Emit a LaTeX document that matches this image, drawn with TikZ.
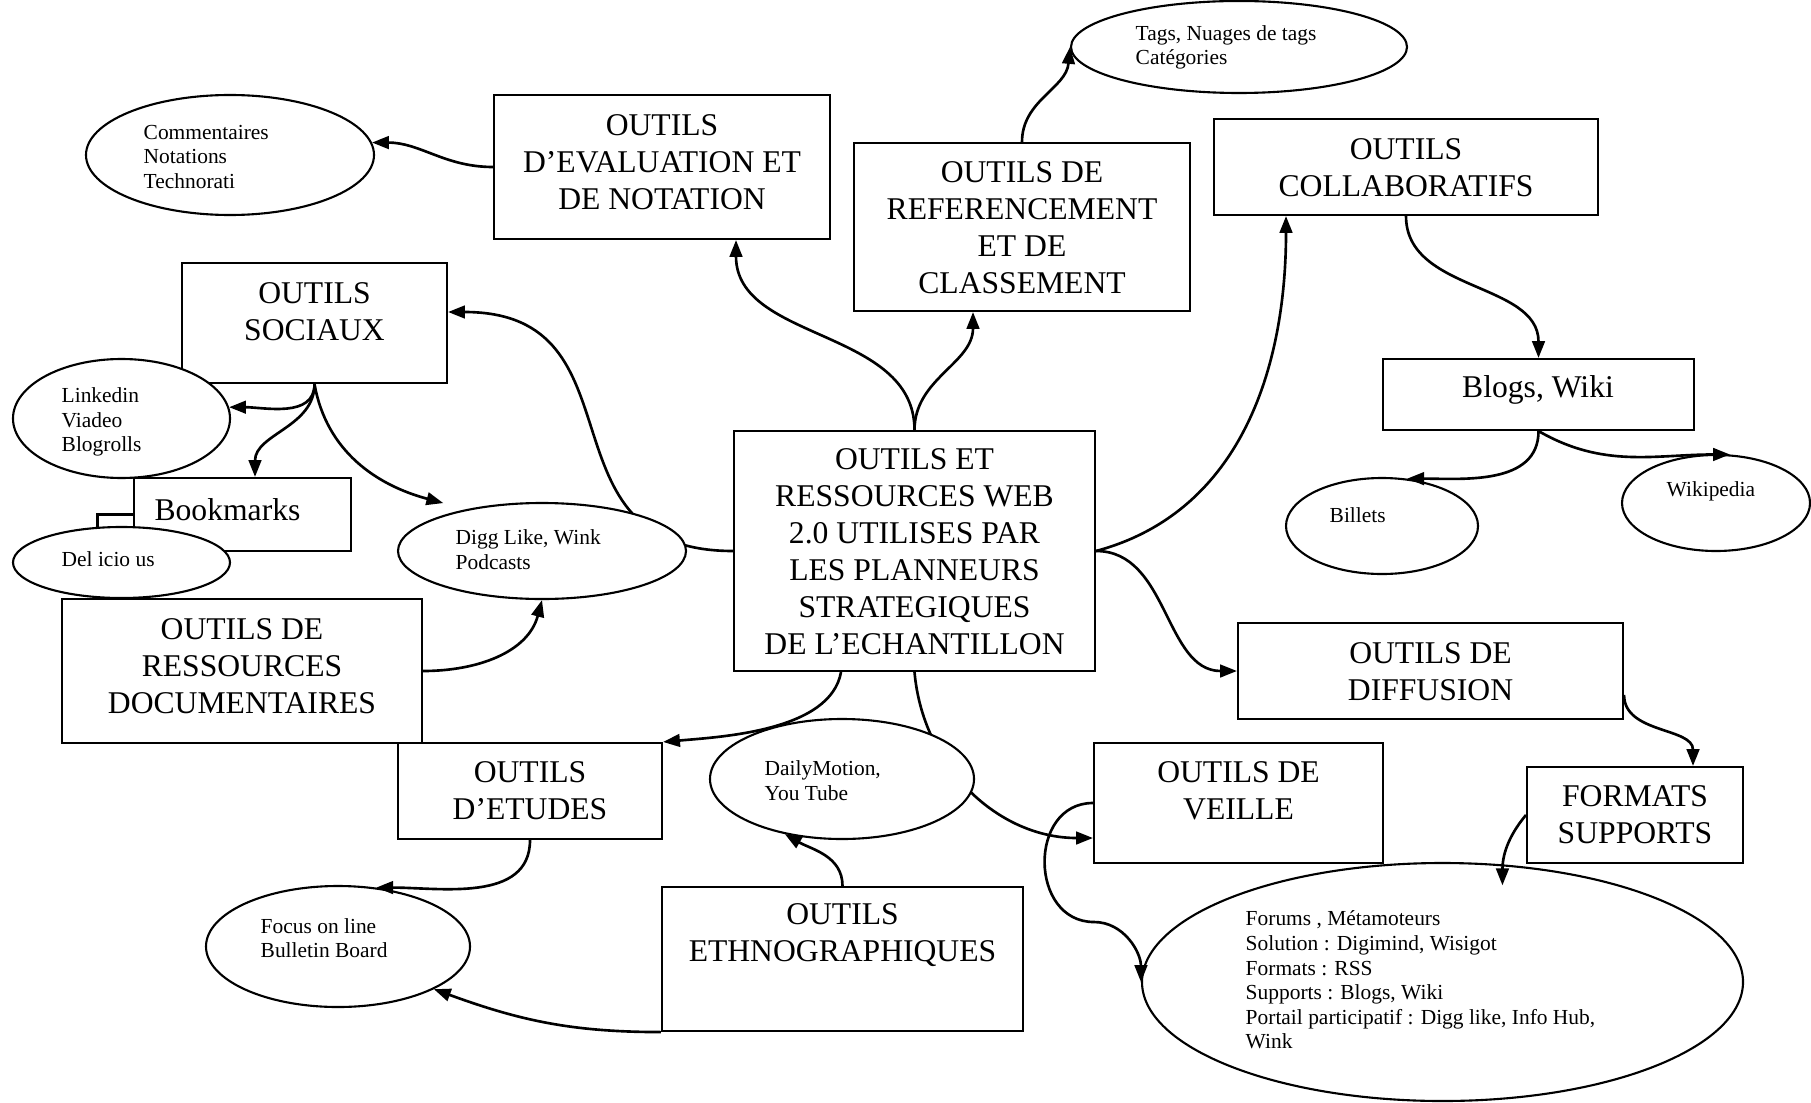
\documentclass[tikz,border=0pt]{standalone}
\usepackage{fontspec}
\setmainfont{Liberation Serif}
\usetikzlibrary{shapes.geometric,arrows.meta,backgrounds}

\begin{document}
\begin{tikzpicture}[
    box/.style={draw, line width=0.6pt, fill=white, inner sep=0pt},
    bulle/.style={draw, ellipse, line width=0.6pt, fill=white, inner sep=0pt},
    titre/.style={align=center, inner sep=0pt, font=\fontsize{9}{10.5}\selectfont},
    liste/.style={align=left, anchor=west, inner sep=0pt, font=\fontsize{6.1}{7}\selectfont},
    lien/.style={line width=0.75pt, -{Triangle[length=4.8pt,width=3.6pt]}}
  ]

  \useasboundingbox (0,0) rectangle (18.11,11.02);

  \node[box, minimum width=3.36cm, minimum height=1.44cm] (eval) at (6.62,9.35) {};
  \node[box, minimum width=3.36cm, minimum height=1.68cm] (ref) at (10.22,8.75) {};
  \node[box, minimum width=3.84cm, minimum height=0.96cm] (collab) at (14.06,9.35) {};
  \node[box, minimum width=2.65cm, minimum height=1.20cm] (soc) at (3.145,7.79) {};
  \node[box, minimum width=2.17cm, minimum height=0.73cm] (book) at (2.425,5.875) {};
  \node[box, minimum width=3.11cm, minimum height=0.71cm] (blogs) at (15.385,7.075) {};
  \node[box, minimum width=3.61cm, minimum height=2.40cm] (centre) at (9.145,5.51) {};
  \node[box, minimum width=3.60cm, minimum height=1.44cm] (res) at (2.42,4.31) {};
  \node[box, minimum width=2.64cm, minimum height=0.96cm] (etudes) at (5.30,3.11) {};
  \node[box, minimum width=3.85cm, minimum height=0.96cm] (diff) at (14.305,4.31) {};
  \node[box, minimum width=2.89cm, minimum height=1.20cm] (veille) at (12.385,2.99) {};
  \node[box, minimum width=2.16cm, minimum height=0.96cm] (formats) at (16.35,2.87) {};
  \node[box, minimum width=3.61cm, minimum height=1.44cm] (ethno) at (8.425,1.43) {};

  \node[bulle, minimum width=2.88cm, minimum height=1.20cm] (comm) at (2.30,9.47) {};
  \node[bulle, minimum width=3.36cm, minimum height=0.92cm] (tags) at (12.39,10.55) {};
  \node[bulle, minimum width=2.17cm, minimum height=1.19cm] (linked) at (1.215,6.835) {};
  \node[bulle, minimum width=2.17cm, minimum height=0.71cm] (del) at (1.215,5.395) {};
  \node[bulle, minimum width=2.88cm, minimum height=0.96cm] (digg) at (5.42,5.51) {};
  \node[bulle, minimum width=1.92cm, minimum height=0.96cm] (billets) at (13.82,5.76) {};
  \node[bulle, minimum width=1.88cm, minimum height=0.96cm] (wiki) at (17.16,5.99) {};
  \node[bulle, minimum width=2.64cm, minimum height=1.21cm] (focus) at (3.38,1.555) {};
  \node[bulle, minimum width=2.64cm, minimum height=1.20cm] (daily) at (8.42,3.23) {};
  \node[bulle, minimum width=6.01cm, minimum height=2.38cm] (forums) at (14.425,1.20) {};

  \node[titre] (eval-t) at (6.62,9.40) {OUTILS\\D’EVALUATION ET\\DE NOTATION};
  \node[titre] (ref-t) at (10.22,8.745) {OUTILS DE\\REFERENCEMENT\\ET DE\\CLASSEMENT};
  \node[titre] (collab-t) at (14.06,9.345) {OUTILS\\COLLABORATIFS};
  \node[titre] (soc-t) at (3.145,7.905) {OUTILS\\SOCIAUX};
  \node[titre] (book-t) at (2.275,5.92) {Bookmarks};
  \node[titre] (blogs-t) at (15.38,7.12) {Blogs, Wiki};
  \node[titre] (centre-t) at (9.145,5.505) {OUTILS ET\\RESSOURCES WEB\\2.0 UTILISES PAR\\LES PLANNEURS\\STRATEGIQUES\\DE L’ECHANTILLON};
  \node[titre] (res-t) at (2.42,4.36) {OUTILS DE\\RESSOURCES\\DOCUMENTAIRES};
  \node[titre] (etudes-t) at (5.30,3.11) {OUTILS\\D’ETUDES};
  \node[titre] (diff-t) at (14.305,4.305) {OUTILS DE\\DIFFUSION};
  \node[titre] (veille-t) at (12.385,3.115) {OUTILS DE\\VEILLE};
  \node[titre] (formats-t) at (16.35,2.875) {FORMATS\\SUPPORTS};
  \node[titre] (ethno-t) at (8.425,1.67) {OUTILS\\ETHNOGRAPHIQUES};

  \node[liste] (comm-t) at (1.43,9.45) {Commentaires\\Notations\\Technorati};
  \node[liste] (tags-t) at (11.35,10.545) {Tags, Nuages de tags\\Catégories};
  \node[liste] (linked-t) at (0.61,6.80) {Linkedin\\Viadeo\\Blogrolls};
  \node[liste] (del-t) at (0.61,5.43) {Del icio us};
  \node[liste] (digg-t) at (4.55,5.525) {Digg Like, Wink\\Podcasts};
  \node[liste] (billets-t) at (13.29,5.87) {Billets};
  \node[liste] (wiki-t) at (16.66,6.11) {Wikipedia};
  \node[liste] (focus-t) at (2.60,1.64) {Focus on line\\Bulletin Board};
  \node[liste] (daily-t) at (7.64,3.215) {DailyMotion,\\You Tube};
  \node[liste] (forums-t) at (12.45,1.22) {Forums , Métamoteurs\\Solution : Digimind, Wisigot\\Formats : RSS\\Supports : Blogs, Wiki\\Portail participatif : Digg like, Info Hub,\\Wink};

  \begin{scope}[on background layer]
    \draw[lien] (centre.west) .. controls +(-2,0) and +(2,0) .. ([yshift=0.11cm]soc.east);
    \draw[lien] (centre.south) to[out=-85,in=180] ([yshift=-0.35cm]veille.west);
  \end{scope}

  \draw[lien] (eval.west) to[out=180,in=0] (comm.5);
  \draw[lien] (centre.north) to[out=90,in=-90] ([xshift=0.74cm]eval.south);
  \draw[lien] (centre.north) to[out=90,in=-90] ([xshift=-0.49cm]ref.south);
  \draw[lien] (ref.north) to[out=90,in=-95] (tags.west);
  \draw[lien] (centre.east) to[out=15,in=-90] ([xshift=-1.2cm]collab.south);
  \draw[lien] (centre.east) to[out=0,in=180] (diff.west);
  \draw[lien] (collab.south) to[out=-90,in=90] (blogs.north);
  \draw[lien] (blogs.south) to[out=-90,in=0] (billets.62);
  \draw[lien] (blogs.south) to[out=-30,in=180] (wiki.74);
  \draw[lien] (res.east) to[out=0,in=-105] (digg.south);
  \draw[lien] (ethno.north) to[out=90,in=-30] (daily.224);
  \draw[lien] ([xshift=-0.735cm]centre.south) to[out=-100,in=5,looseness=0.8] (etudes.north east);
  \draw[lien] (etudes.south) to[out=-90,in=0] (focus.57);
  \draw[lien] (ethno.south west) to[out=180,in=-20] (focus.-24);
  \draw[lien] (soc.south) to[out=-90,in=0] (linked.6);
  \draw[lien] (soc.south) to[out=-90,in=90] ([xshift=0.125cm]book.north);
  \draw[lien] (soc.south) to[out=-80,in=165] ([yshift=0.12cm]digg.160);
  \draw[line width=0.6pt] (book.west) -| (del.124);
  \coordinate (veil-bend) at (10.94,1.80);
  \draw[lien] (veille.west) to[out=180,in=180,looseness=1.4] (veil-bend) to[out=0,in=90] (forums.west);
  \draw[lien] (formats.west) to[out=-130,in=90] ([yshift=-0.21cm]forums.63);
  \draw[lien] ([yshift=-0.24cm]diff.east) to[out=-90,in=90] ([xshift=0.58cm]formats.north);

\end{tikzpicture}
\end{document}
